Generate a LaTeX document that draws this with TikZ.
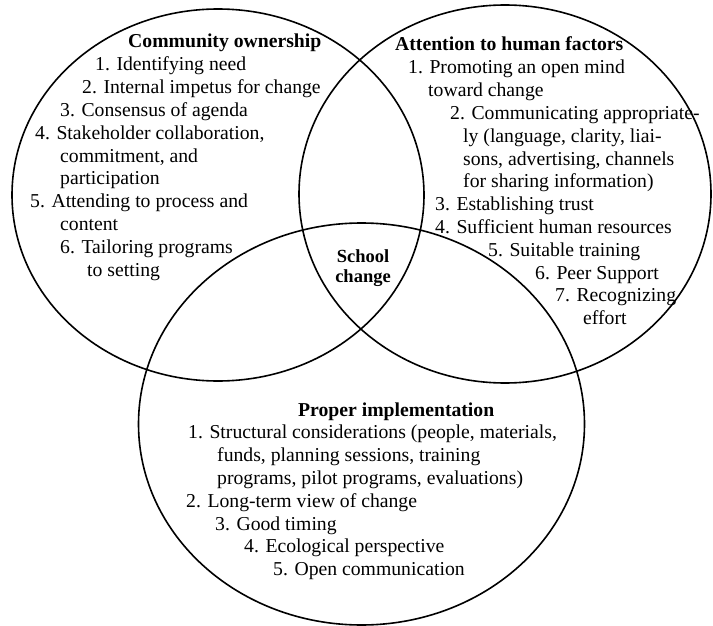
\documentclass[tikz,border=0pt]{standalone}
\usepackage{fontspec}
\setmainfont{Liberation Serif}
\begin{document}
\begin{tikzpicture}[x=1pt,y=1pt,
  ring/.style={draw=black, line width=1.6pt},
  item/.style={anchor=base west, inner sep=0pt, font=\fontsize{19.7}{22.8}\selectfont},
  head/.style={anchor=base west, inner sep=0pt, font=\fontsize{19.7}{22.8}\selectfont\bfseries}]
\useasboundingbox (0,0) rectangle (713,-626);

% the three overlapping sets
\draw[ring] (218,-195) ellipse [x radius=206, y radius=186];
\draw[ring] (505,-194) ellipse [x radius=206, y radius=189];
\draw[ring] (361.5,-424) ellipse [x radius=223, y radius=201];

% community ownership
\node[head] (co)  at (128,-48)    {Community ownership};
\node[item] (co1) at (95,-70.8)   {1. Identifying need};
\node[item] (co2) at (82,-93.6)   {2. Internal impetus for change};
\node[item] (co3) at (60,-116.4)  {3. Consensus of agenda};
\node[item] (co4) at (35,-139.2)  {4. Stakeholder collaboration,};
\node[item] (co4b) at (60,-162)   {commitment, and};
\node[item] (co4c) at (60,-184.8) {participation};
\node[item] (co5) at (30,-207.6)  {5. Attending to process and};
\node[item] (co5b) at (60,-230.4) {content};
\node[item] (co6) at (60,-253.2)  {6. Tailoring programs};
\node[item] (co6b) at (87,-276)   {to setting};

% attention to human factors
\node[head] (hf)  at (395,-51)    {Attention to human factors};
\node[item] (hf1) at (408,-73.8)  {1. Promoting an open mind};
\node[item] (hf1b) at (428,-96.6) {toward change};
\node[item] (hf2) at (450,-119.4) {2. Communicating appropriate-};
\node[item] (hf2b) at (463,-142.2) {ly (language, clarity, liai-};
\node[item] (hf2c) at (463,-165)  {sons, advertising, channels};
\node[item] (hf2d) at (463,-187.8) {for sharing information)};
\node[item] (hf3) at (435,-210.6) {3. Establishing trust};
\node[item] (hf4) at (435,-233.4) {4. Sufficient human resources};
\node[item] (hf5) at (488,-256.2) {5. Suitable training};
\node[item] (hf6) at (535,-279)   {6. Peer Support};
\node[item] (hf7) at (555,-301.8) {7. Recognizing};
\node[item] (hf7b) at (583,-324.6) {effort};

% centre of the diagram
\node[inner sep=0pt, align=center, font=\fontsize{18.5}{19.5}\selectfont\bfseries]
  (sc) at (363,-268) {School\\change};

% proper implementation
\node[head] (pi)  at (298,-416)   {Proper implementation};
\node[item] (pi1) at (188,-438.8) {1. Structural considerations (people, materials,};
\node[item] (pi1b) at (217,-461.6) {funds, planning sessions, training};
\node[item] (pi1c) at (217,-484.4) {programs, pilot programs, evaluations)};
\node[item] (pi2) at (186,-507.2) {2. Long-term view of change};
\node[item] (pi3) at (215,-530)   {3. Good timing};
\node[item] (pi4) at (244,-552.8) {4. Ecological perspective};
\node[item] (pi5) at (273,-575.6) {5. Open communication};
\end{tikzpicture}
\end{document}
